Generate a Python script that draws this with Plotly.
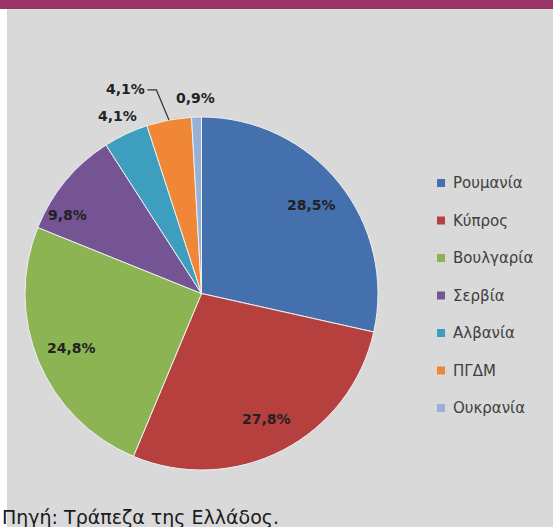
"""
Pie chart: share of Greek bank subsidiaries' assets by host country.
"""

import math

import plotly.graph_objects as go

countries = ["Ρουμανία", "Κύπρος", "Βουλγαρία", "Σερβία", "Αλβανία", "ΠΓΔΜ", "Ουκρανία"]
shares = [28.5, 27.8, 24.8, 9.8, 4.1, 4.1, 0.9]
outside = [False, False, False, False, True, True, True]
colors = ["#4471ad", "#b5403d", "#8cb452", "#745493", "#3d9fbd", "#ef8736", "#98b1d6"]
source_note = "Πηγή: Τράπεζα της Ελλάδος."

W, H = 553, 527
# pie geometry in pixels
cx, cy, R = 201.5, 293.5, 176.5
# small nudges for crowded labels (pixels)
nudges = {"Σερβία": (-25, 12), "ΠΓΔΜ": (-40, -12)}


def px(x, y):
    return x / W, 1 - y / H


fig = go.Figure()
fig.add_trace(
    go.Pie(
        labels=countries,
        values=shares,
        sort=False,
        direction="clockwise",
        rotation=0,
        textinfo="none",
        hoverinfo="label+percent",
        marker=dict(colors=colors, line=dict(color="#eef0f3", width=1)),
        domain=dict(x=[(cx - R) / W, (cx + R) / W], y=[1 - (cy + R) / H, 1 - (cy - R) / H]),
        showlegend=False,
    )
)

shapes = [
    # grey plot area and top band
    dict(type="rect", xref="paper", yref="paper", x0=7 / W, x1=1, y0=0, y1=1 - 9 / H,
         fillcolor="#d9d9d9", line_width=0, layer="below"),
    dict(type="rect", xref="paper", yref="paper", x0=0, x1=1, y0=1 - 9 / H, y1=1,
         fillcolor="#9b3467", line_width=0, layer="below"),
]
annotations = []

total = sum(shares)
cum = 0.0
for name, v, out in zip(countries, shares, outside):
    mid = (cum + v / 2) / total
    cum += v
    th = 2 * math.pi * mid
    r = 1.11 * R if out else 0.8 * R
    lx = cx + r * math.sin(th)
    ly = cy - r * math.cos(th)
    dx, dy = nudges.get(name, (0, 0))
    lx += dx
    ly += dy
    x, y = px(lx, ly)
    annotations.append(dict(
        x=x, y=y, xref="paper", yref="paper", showarrow=False,
        xanchor="center", yanchor="middle",
        text=f"{v:.1f}".replace(".", ",") + "%",
        font=dict(family="DejaVu Sans", size=14, color="#222222", weight="bold"),
    ))
    if name in nudges and out:
        # leader line from label to slice edge
        ex = cx + R * math.sin(th)
        ey = cy - R * math.cos(th)
        p = [px(lx + 22, ly + 1), px(lx + 31, ly + 1), px(ex, ey)]
        path = "M {} {} L {} {} L {} {}".format(*[c for pt in p for c in pt])
        shapes.append(dict(type="path", xref="paper", yref="paper", path=path,
                           line=dict(color="#333333", width=1.2)))

# legend drawn by hand to match the wide spacing
for i, (name, col) in enumerate(zip(countries, colors)):
    yc = 183 + i * 37.5
    x0, y1 = px(437, yc - 4)
    x1, y0 = px(445, yc + 4)
    shapes.append(dict(type="rect", xref="paper", yref="paper", x0=x0, x1=x1, y0=y0, y1=y1,
                       fillcolor=col, line_width=0))
    tx, ty = px(451, yc)
    annotations.append(dict(
        x=tx, y=ty, xref="paper", yref="paper", showarrow=False,
        xanchor="left", yanchor="middle",
        text=name, font=dict(family="DejaVu Sans", size=15, color="#404040"),
    ))

nx, ny = px(0, 517)
annotations.append(dict(
    x=nx, y=ny, xref="paper", yref="paper", showarrow=False,
    xanchor="left", yanchor="middle",
    text=source_note, font=dict(family="DejaVu Sans", size=19, color="#1a1a1a"),
))

fig.update_layout(
    width=W,
    height=H,
    margin=dict(l=0, r=0, t=0, b=0),
    paper_bgcolor="white",
    plot_bgcolor="white",
    shapes=shapes,
    annotations=annotations,
)

fig.write_html(
    "out.html",
    config={"displayModeBar": False},
    post_script="document.body.style.margin='0';document.body.style.overflow='hidden';",
)
